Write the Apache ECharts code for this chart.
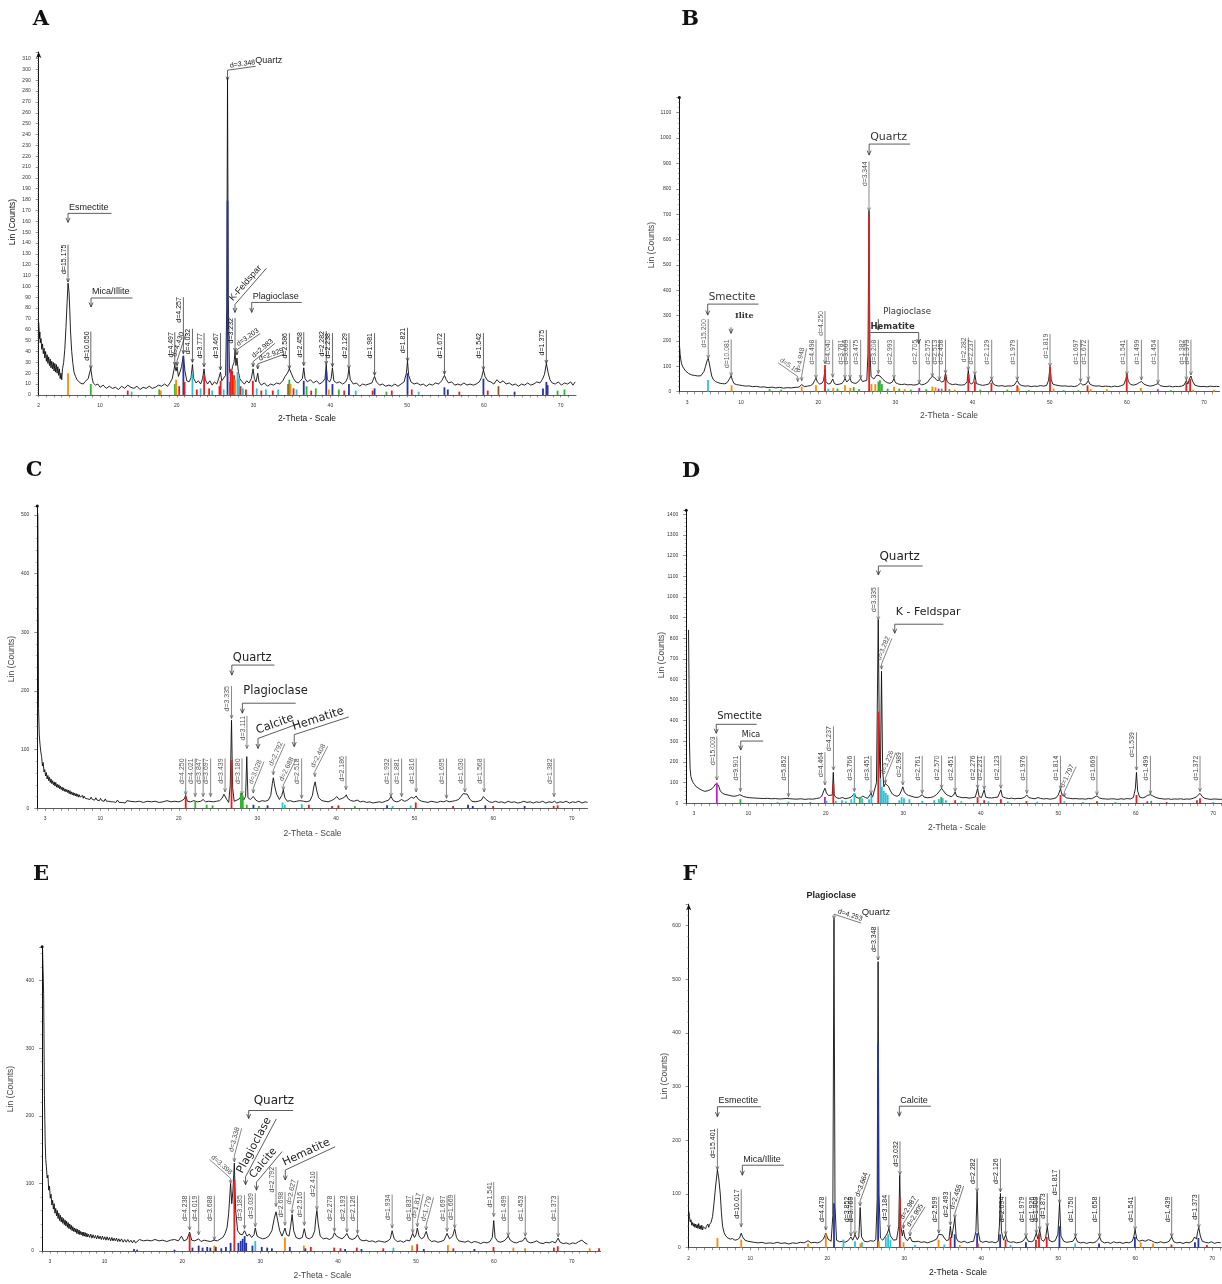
<!DOCTYPE html>
<html><head><meta charset="utf-8">
<script src="https://cdn.jsdelivr.net/npm/echarts@6/dist/echarts.min.js"></script>
<style>html,body{margin:0;padding:0;background:#fff}#c{width:1222px;height:1284px}</style>
</head><body><div id="c"></div>
<script>
// ===================== DATA =====================
// Panel A
const A_curve = [[2.0,67],[2.05,60],[2.1,52],[2.15,58],[2.2,48],[2.3,52],[2.4,42],[2.5,47],[2.6,38],[2.7,43],[2.8,34],[2.9,40],[3.0,31],[3.1,37],[3.2,29],[3.3,35],[3.4,27],[3.5,33],[3.6,25],[3.7,31],[3.8,24],[3.9,30],[4.0,22],[4.1,29],[4.2,21],[4.3,28],[4.4,20],[4.5,26],[4.6,18],[4.7,24],[4.8,15],[4.9,20],[5.0,14],[5.1,24],[5.25,30],[5.4,42],[5.55,62],[5.7,85],[5.82,103],[5.95,95],[6.05,78],[6.15,58],[6.3,40],[6.45,29],[6.6,21],[6.8,17],[7.0,14],[7.2,15],[7.4,11],[7.6,12],[7.8,10],[8.0,12],[8.2,11],[8.45,15],[8.65,21],[8.79,24],[8.95,16],[9.1,11],[9.4,9],[9.7,10],[10.0,7],[10.4,9],[10.8,6],[11.2,8],[11.6,6],[12.0,7],[12.4,5],[12.8,8],[13.2,6],[13.6,9],[14.0,7],[14.4,6],[14.8,8],[15.2,5],[15.6,7],[16.0,6],[16.4,8],[16.8,6],[17.2,7],[17.6,9],[18.0,8],[18.4,10],[18.8,8],[19.1,11],[19.4,15],[19.73,27],[19.9,22],[20.03,26],[20.2,17],[20.45,22],[20.6,26],[20.85,36],[21.05,22],[21.3,13],[21.6,12],[21.85,16],[22.03,28],[22.2,15],[22.5,11],[22.8,13],[23.1,10],[23.35,15],[23.54,24],[23.7,14],[24.0,10],[24.3,13],[24.6,9],[24.9,12],[25.2,10],[25.45,15],[25.68,21],[25.85,13],[26.1,12],[26.35,18],[26.5,80],[26.6,292],[26.7,90],[26.85,22],[27.05,18],[27.25,26],[27.45,30],[27.58,40],[27.7,27],[27.83,34],[28.0,22],[28.2,15],[28.5,12],[28.8,10],[29.1,13],[29.4,11],[29.7,15],[29.93,24],[30.1,15],[30.3,12],[30.54,20],[30.7,12],[31.0,9],[31.4,11],[31.8,8],[32.2,10],[32.6,9],[33.0,11],[33.4,10],[33.8,13],[34.1,17],[34.4,20],[34.66,24],[34.9,20],[35.2,15],[35.5,12],[35.8,11],[36.1,13],[36.35,15],[36.53,25],[36.7,15],[37.0,12],[37.4,14],[37.8,11],[38.2,13],[38.6,10],[39.0,12],[39.3,15],[39.46,28],[39.6,14],[39.9,12],[40.1,15],[40.27,25],[40.45,13],[40.8,11],[41.2,12],[41.6,10],[42.0,12],[42.25,16],[42.42,24],[42.6,14],[43.0,10],[43.4,11],[43.8,8],[44.2,10],[44.6,9],[45.0,10],[45.4,11],[45.76,17],[46.0,12],[46.4,9],[46.8,10],[47.2,8],[47.6,9],[48.0,8],[48.4,10],[48.8,8],[49.2,10],[49.6,12],[49.9,20],[50.05,31],[50.2,18],[50.5,12],[50.9,10],[51.3,11],[51.7,9],[52.1,10],[52.5,8],[52.9,10],[53.3,9],[53.7,11],[54.1,10],[54.5,13],[54.86,18],[55.1,14],[55.4,11],[55.8,12],[56.2,9],[56.6,10],[57.0,9],[57.4,11],[57.8,9],[58.2,10],[58.6,9],[59.0,10],[59.4,12],[59.7,16],[59.94,23],[60.15,17],[60.5,13],[60.9,12],[61.3,10],[61.7,14],[62.1,11],[62.5,13],[62.9,10],[63.3,11],[63.7,9],[64.1,10],[64.5,8],[64.9,10],[65.3,9],[65.7,11],[66.1,9],[66.5,10],[66.9,12],[67.3,11],[67.6,14],[67.9,19],[68.14,29],[68.35,21],[68.6,14],[68.9,11],[69.3,10],[69.7,12],[70.1,9],[70.5,11],[70.9,10],[71.3,12],[71.6,9],[71.9,12]];
const A_sticks = [[5.82,20,'o'],[8.79,10,'g'],[13.6,4,'r'],[14.1,3,'c'],[17.7,5,'g'],[17.9,4,'o'],[19.75,10,'g'],[19.9,14,'o'],[20.3,8,'r'],[20.85,36,'b'],[21.0,12,'r'],[22.03,20,'c'],[22.6,5,'r'],[23.1,6,'c'],[23.55,18,'r'],[24.2,6,'r'],[24.6,4,'c'],[25.55,8,'r'],[25.7,13,'r'],[26.1,5,'c'],[26.6,179,'b'],[26.9,12,'g'],[27.0,24,'r'],[27.2,22,'r'],[27.45,18,'r'],[27.6,14,'o'],[27.9,21,'c'],[28.1,16,'c'],[28.3,8,'r'],[28.6,6,'c'],[29.0,5,'r'],[29.9,13,'r'],[30.4,6,'c'],[31.0,4,'r'],[31.6,5,'c'],[32.5,4,'r'],[33.2,5,'c'],[34.5,10,'r'],[34.65,14,'g'],[34.8,10,'o'],[35.2,6,'r'],[35.6,5,'c'],[36.53,13,'b'],[36.9,8,'g'],[37.5,4,'r'],[38.1,6,'g'],[39.46,22,'b'],[39.8,5,'o'],[40.27,10,'b'],[41.1,5,'g'],[41.8,4,'r'],[42.42,10,'b'],[43.3,4,'c'],[45.5,4,'r'],[45.76,6,'b'],[47.3,3,'g'],[48.0,4,'r'],[50.05,20,'b'],[50.6,5,'r'],[51.5,3,'c'],[54.86,7,'b'],[55.3,5,'b'],[56.8,3,'r'],[59.94,15,'b'],[60.5,4,'r'],[61.9,8,'n'],[64.0,3,'b'],[67.7,6,'b'],[68.14,12,'b'],[68.3,9,'b'],[69.6,4,'g'],[70.5,5,'g']];
const A_peaks = [[5.82,104],[8.79,24],[19.73,27],[20.03,27],[20.85,38],[22.03,30],[23.54,26],[25.68,23],[26.6,290],[27.58,40],[27.83,37],[29.93,26],[30.54,24],[34.66,24],[36.53,27],[39.46,28],[40.27,26],[42.42,24],[45.76,18],[50.05,31],[54.86,19],[59.94,23],[68.14,29]];
const A_peakLabels = ['d=15.175','d=10.050','d=4.497','d=4.430','d=4.257','d=4.032','d=3.777','d=3.467','d=3.348','d=3.232','d=3.203','d=2.983','d=2.925','d=2.586','d=2.458','d=2.282','d=2.238','d=2.129','d=1.981','d=1.821','d=1.672','d=1.542','d=1.375'];
const A_minerals = [[5.82,159],[8.82,81],[27.57,76],[29.75,76],[30.2,304]];
const A_mineralNames = ['Esmectite','Mica/Illite','K-Feldspar','Plagioclase','Quartz'];
const A_xLabels = [2,10,20,30,40,50,60,70];

// Panel B
const B_curve = [[2.05,175],[2.1,150],[2.2,125],[2.3,110],[2.45,98],[2.6,92],[2.8,82],[3.0,78],[3.2,72],[3.4,70],[3.6,66],[3.8,63],[4.0,64],[4.2,59],[4.4,62],[4.6,58],[4.8,63],[5.0,68],[5.2,80],[5.4,100],[5.6,122],[5.75,131],[5.9,110],[6.05,85],[6.2,62],[6.4,48],[6.7,40],[7.0,36],[7.3,33],[7.6,32],[7.9,31],[8.2,36],[8.45,48],[8.72,62],[8.9,44],[9.1,32],[9.4,28],[9.8,26],[10.2,24],[10.6,22],[11.0,23],[11.5,20],[12.0,21],[12.5,18],[13.0,19],[13.5,16],[14.0,18],[14.5,15],[15.0,17],[15.5,14],[16.0,16],[16.5,15],[17.0,17],[17.5,18],[17.86,28],[18.2,20],[18.6,22],[19.0,24],[19.3,30],[19.55,45],[19.71,53],[19.9,38],[20.2,30],[20.5,34],[20.7,45],[20.88,88],[21.0,40],[21.3,30],[21.6,33],[21.88,50],[22.1,32],[22.4,28],[22.8,30],[23.1,33],[23.3,42],[23.47,52],[23.7,38],[23.95,40],[24.12,52],[24.3,38],[24.6,34],[24.9,33],[25.2,40],[25.5,52],[25.75,40],[26.0,38],[26.3,45],[26.45,150],[26.58,712],[26.7,160],[26.85,60],[27.0,55],[27.2,50],[27.4,58],[27.6,66],[27.79,70],[28.0,62],[28.2,55],[28.4,48],[28.7,40],[29.0,35],[29.3,33],[29.6,38],[29.82,52],[30.0,36],[30.4,30],[30.8,28],[31.2,30],[31.6,27],[32.0,28],[32.4,26],[32.8,28],[33.1,33],[33.4,27],[33.8,30],[34.2,38],[34.5,52],[34.8,60],[35.1,55],[35.4,44],[35.7,46],[36.0,38],[36.3,42],[36.5,72],[36.7,40],[37.0,32],[37.4,28],[37.8,30],[38.2,27],[38.6,26],[39.0,28],[39.3,40],[39.45,84],[39.6,36],[39.9,30],[40.15,40],[40.3,66],[40.5,32],[40.9,28],[41.3,25],[41.7,27],[42.1,30],[42.45,48],[42.7,30],[43.0,25],[43.4,22],[43.8,24],[44.2,21],[44.6,23],[45.0,22],[45.4,26],[45.8,44],[46.05,30],[46.4,24],[46.8,22],[47.2,23],[47.6,20],[48.0,22],[48.4,21],[48.8,24],[49.2,22],[49.6,25],[49.85,45],[50.04,98],[50.2,48],[50.4,30],[50.8,26],[51.2,24],[51.6,22],[52.0,23],[52.4,21],[52.8,22],[53.2,20],[53.6,24],[54.0,34],[54.3,26],[54.7,30],[55.0,44],[55.2,30],[55.6,24],[56.0,22],[56.4,23],[56.8,20],[57.2,22],[57.6,21],[58.0,19],[58.4,22],[58.8,20],[59.2,23],[59.6,28],[59.85,48],[60.0,66],[60.2,40],[60.5,28],[60.9,26],[61.3,30],[61.6,36],[61.9,40],[62.2,30],[62.6,25],[63.0,22],[63.4,24],[63.7,28],[64.04,32],[64.3,24],[64.7,21],[65.1,20],[65.5,22],[65.9,19],[66.3,21],[66.7,20],[67.1,22],[67.4,26],[67.7,44],[67.9,30],[68.1,50],[68.3,62],[68.5,42],[68.8,26],[69.2,22],[69.6,20],[70.0,21],[70.4,19],[70.8,22],[71.2,20],[71.6,21],[72,20]];
const B_sticks = [[5.72,46,'c'],[8.77,25,'o'],[13.7,10,'g'],[15.2,8,'g'],[17.86,20,'o'],[19.71,25,'o'],[20.88,105,'r'],[21.3,12,'c'],[21.95,15,'o'],[22.5,12,'g'],[23.47,25,'o'],[24.15,15,'o'],[24.6,18,'g'],[25.3,10,'g'],[26.6,690,'r'],[26.9,30,'o'],[27.4,30,'o'],[27.8,40,'g'],[28.0,45,'g'],[28.25,30,'g'],[29.0,12,'g'],[29.82,20,'o'],[30.5,12,'g'],[31.2,10,'o'],[32.0,8,'g'],[33.1,15,'m'],[34.0,10,'g'],[34.8,20,'o'],[35.2,18,'o'],[35.6,12,'m'],[36.0,12,'g'],[36.5,66,'r'],[37.0,10,'g'],[37.7,8,'o'],[39.45,70,'r'],[40.3,40,'r'],[41.0,8,'g'],[42.45,35,'r'],[44.5,8,'g'],[45.8,25,'r'],[45.95,15,'o'],[47.3,6,'g'],[50.04,99,'r'],[50.5,12,'o'],[51.8,6,'g'],[53.7,6,'g'],[54.9,25,'r'],[55.3,10,'o'],[57.4,10,'o'],[59.98,72,'r'],[61.8,15,'o'],[64.0,10,'m'],[65.7,6,'g'],[67.7,35,'r'],[68.2,50,'r'],[68.6,8,'o'],[71.3,8,'o']];
const B_peaks = [[5.75,131],[8.72,62],[17.35,40],[17.86,43],[19.71,52],[20.88,110],[21.88,57],[23.47,52],[24.12,52],[25.5,52],[26.58,712],[27.79,72],[29.82,52],[33.1,33],[34.79,59],[35.7,46],[36.5,72],[39.45,85],[40.3,66],[42.48,46],[45.8,46],[50.04,99],[54.0,39],[55.0,46],[60.0,66],[61.88,46],[64.04,33],[67.7,46],[68.3,66]];
const B_peakLabels = ['d=15.200','d=10.081','d=5.10','d=4.948','d=4.498','d=4.250','d=4.040','d=3.781','d=3.669','d=3.475','d=3.344','d=3.208','d=2.993','d=2.705','d=2.575','d=2.513','d=2.458','d=2.282','d=2.237','d=2.129','d=1.979','d=1.819','d=1.697','d=1.672','d=1.541','d=1.499','d=1.454','d=1.382','d=1.373'];
const B_minerals = [[26.6,933],[5.68,302],[8.7,230],[27.79,243],[33.02,190]];
const B_mineralNames = ['Quartz','Smectite','Ilite','Plagioclase','Hematite'];
const B_xLabels = [3,10,20,30,40,50,60,70];

// Panel C
const C_curve = [[2.02,505],[2.07,500],[2.1,410],[2.16,170],[2.25,125],[2.35,108],[2.45,96],[2.55,88],[2.65,72],[2.75,78],[2.85,62],[2.95,66],[3.05,55],[3.15,61],[3.25,50],[3.35,56],[3.45,47],[3.55,53],[3.65,44],[3.75,50],[3.85,42],[3.95,47],[4.05,40],[4.15,45],[4.25,38],[4.35,44],[4.45,36],[4.55,41],[4.65,35],[4.75,40],[4.85,33],[4.95,38],[5.05,32],[5.15,36],[5.25,30],[5.35,35],[5.45,29],[5.55,33],[5.65,28],[5.75,32],[5.85,27],[5.95,31],[6.05,25],[6.15,30],[6.25,24],[6.35,28],[6.45,23],[6.55,27],[6.65,22],[6.75,26],[6.85,21],[6.95,25],[7.05,20],[7.15,24],[7.25,19],[7.35,23],[7.45,19],[7.55,22],[7.65,18],[7.75,22],[7.85,17],[7.95,21],[8.1,17],[8.25,20],[8.4,16],[8.55,19],[8.7,15],[8.85,19],[9.0,15],[9.15,18],[9.3,14],[9.45,18],[9.6,14],[9.75,17],[9.9,13],[10.05,17],[10.2,13],[10.35,16],[10.5,12],[10.65,16],[10.8,12],[10.95,15],[11.1,12],[11.25,15],[11.4,11],[11.55,14],[11.7,11],[11.85,14],[12.0,10],[12.2,14],[12.4,10],[12.6,13],[12.8,10],[13.0,13],[13.2,9],[13.4,13],[13.6,10],[13.8,12],[14.0,9],[14.5,11],[15.0,12],[15.5,10],[16.0,12],[16.5,11],[17.0,12],[17.5,10],[18.0,11],[18.5,13],[19.0,11],[19.5,12],[20.0,11],[20.4,13],[20.7,16],[20.88,22],[21.1,12],[21.5,11],[21.9,13],[22.1,16],[22.4,11],[22.8,12],[23.1,15],[23.4,11],[23.8,12],[24.05,14],[24.4,11],[24.8,12],[25.2,13],[25.5,17],[25.75,24],[25.9,27],[26.1,15],[26.35,10],[26.55,40],[26.71,150],[26.85,35],[27.05,12],[27.4,14],[27.7,16],[28.0,22],[28.25,14],[28.5,20],[28.65,88],[28.8,18],[29.1,15],[29.48,20],[29.8,14],[30.2,11],[30.6,13],[31.0,12],[31.4,14],[31.7,22],[31.9,42],[32.03,52],[32.2,38],[32.45,24],[32.8,15],[33.1,22],[33.3,31],[33.5,18],[33.8,12],[34.2,13],[34.6,11],[35.0,12],[35.4,13],[35.65,16],[35.9,12],[36.3,11],[36.7,13],[37.0,22],[37.2,38],[37.35,45],[37.55,30],[37.8,18],[38.2,13],[38.6,12],[39.0,11],[39.4,13],[39.8,16],[40.1,20],[40.4,15],[40.8,17],[41.1,19],[41.3,23],[41.5,17],[41.9,13],[42.3,12],[42.7,14],[43.1,11],[43.5,12],[43.9,10],[44.3,11],[44.7,9],[45.1,10],[45.5,11],[45.9,10],[46.3,12],[46.7,14],[47.0,20],[47.3,13],[47.7,11],[48.0,12],[48.35,15],[48.7,12],[49.0,13],[49.3,16],[49.6,19],[49.9,17],[50.2,21],[50.5,15],[50.9,12],[51.3,11],[51.7,10],[52.1,12],[52.5,11],[52.9,10],[53.3,12],[53.7,11],[54.06,13],[54.4,11],[54.8,12],[55.2,13],[55.6,15],[55.9,20],[56.2,25],[56.45,28],[56.7,24],[57.0,16],[57.3,12],[57.7,11],[58.1,12],[58.5,14],[58.75,20],[58.9,22],[59.1,15],[59.5,11],[59.9,10],[60.3,12],[60.7,10],[61.1,11],[61.5,9],[61.9,12],[62.3,10],[62.7,11],[63.1,9],[63.5,10],[63.9,12],[64.3,10],[64.7,11],[65.1,9],[65.5,11],[65.9,10],[66.3,12],[66.7,9],[67.1,11],[67.5,10],[67.8,12],[68.1,9],[68.5,11],[68.9,10],[69.3,12],[69.7,9],[70.1,11],[70.5,10],[70.9,12],[71.3,9],[71.7,11],[72,10]];
const C_sticks = [[20.88,20,'r'],[22.1,12,'g'],[23.55,6,'g'],[24.3,5,'g'],[26.71,82,'r'],[27.9,26,'g'],[28.0,24,'g'],[28.15,22,'g'],[28.65,6,'g'],[29.5,6,'b'],[30.2,4,'g'],[31.3,5,'b'],[33.2,10,'c'],[33.5,6,'c'],[35.65,7,'c'],[36.55,6,'r'],[39.5,4,'r'],[40.3,5,'r'],[42.4,4,'g'],[46.5,5,'b'],[47.2,4,'c'],[49.5,5,'c'],[50.15,10,'r'],[54.9,4,'r'],[56.8,6,'b'],[57.4,4,'b'],[59.0,5,'b'],[60.0,4,'r'],[64.0,4,'b'],[67.7,4,'r'],[68.2,5,'r']];
const C_peaks = [[20.88,23],[22.09,20],[23.1,20],[24.05,20],[25.89,28],[26.71,153],[28.04,23],[28.67,102],[29.48,26],[32.03,57],[33.3,31],[35.63,17],[37.31,54],[41.27,32],[47.0,20],[48.35,20],[50.2,28],[54.06,17],[56.4,28],[58.85,28],[67.74,20]];
const C_peakLabels = ['d=4.250','d=4.021','d=3.847','d=3.697','d=3.439','d=3.335','d=3.180','d=3.111','d=3.028','d=2.792','d=2.688','d=2.518','d=2.408','d=2.186','d=1.932','d=1.881','d=1.816','d=1.695','d=1.630','d=1.568','d=1.382'];
const C_minerals = [[26.75,227],[28.09,162],[30.08,102],[34.69,105]];
const C_mineralNames = ['Quartz','Plagioclase','Calcite','Hematite'];
const C_xLabels = [3,10,20,30,40,50,60,70];

// Panel D
const D_curve = [[2.3,840],[2.36,600],[2.42,300],[2.5,170],[2.6,130],[2.75,112],[2.9,100],[3.1,90],[3.3,80],[3.5,74],[3.8,68],[4.1,62],[4.4,58],[4.7,60],[5.0,64],[5.3,70],[5.55,80],[5.75,92],[5.95,100],[6.15,88],[6.4,60],[6.7,48],[7.0,43],[7.4,40],[7.8,36],[8.2,34],[8.6,37],[8.9,42],[9.1,40],[9.4,33],[9.8,29],[10.2,27],[10.6,26],[11.0,25],[11.5,24],[12.0,23],[12.5,24],[13.0,22],[13.5,23],[14.0,21],[14.5,22],[15.0,24],[15.2,28],[15.4,22],[15.8,21],[16.3,20],[16.8,22],[17.3,19],[17.8,21],[18.3,20],[18.8,23],[19.2,26],[19.5,35],[19.75,60],[19.9,73],[20.1,50],[20.35,38],[20.6,30],[20.85,40],[20.98,150],[21.1,40],[21.4,26],[21.8,24],[22.2,28],[22.5,22],[22.9,25],[23.3,30],[23.7,48],[23.9,30],[24.2,25],[24.5,27],[24.8,35],[25.1,28],[25.4,24],[25.65,32],[25.85,48],[26.05,30],[26.3,35],[26.55,100],[26.78,888],[26.95,200],[27.05,120],[27.2,640],[27.35,160],[27.5,80],[27.7,95],[27.9,100],[28.1,82],[28.35,60],[28.6,45],[28.9,38],[29.2,34],[29.5,40],[29.75,60],[29.95,80],[30.15,55],[30.4,44],[30.7,38],[31.0,35],[31.4,30],[31.8,28],[32.1,32],[32.45,42],[32.7,30],[33.1,27],[33.5,28],[33.9,32],[34.3,42],[34.6,55],[34.95,72],[35.2,60],[35.5,45],[35.8,38],[36.2,32],[36.5,40],[36.7,55],[36.9,34],[37.3,30],[37.7,27],[38.1,28],[38.5,25],[38.9,27],[39.3,30],[39.6,72],[39.8,32],[40.1,28],[40.45,65],[40.65,30],[41.0,27],[41.4,26],[41.8,28],[42.2,30],[42.6,65],[42.8,32],[43.2,26],[43.6,23],[44.0,25],[44.4,22],[44.8,24],[45.2,23],[45.6,28],[45.95,40],[46.2,28],[46.6,24],[47.0,22],[47.4,28],[47.7,24],[48.1,21],[48.5,23],[48.9,20],[49.3,22],[49.7,26],[50.0,40],[50.3,70],[50.5,40],[50.8,34],[51.1,26],[51.5,24],[51.9,22],[52.3,23],[52.7,21],[53.1,22],[53.5,20],[53.9,23],[54.3,22],[54.7,30],[55.0,36],[55.3,26],[55.7,22],[56.1,21],[56.5,20],[56.9,22],[57.3,21],[57.7,19],[58.1,22],[58.5,20],[58.9,23],[59.3,21],[59.7,28],[59.95,70],[60.1,150],[60.25,60],[60.5,30],[60.9,26],[61.2,30],[61.5,38],[61.9,42],[62.2,36],[62.6,28],[63.0,24],[63.4,22],[63.8,20],[64.2,22],[64.6,19],[65.0,21],[65.4,20],[65.8,22],[66.2,19],[66.6,21],[67.0,20],[67.4,24],[67.8,30],[68.0,38],[68.3,48],[68.6,32],[68.9,24],[69.3,21],[69.7,19],[70.1,21],[70.5,20],[70.9,19],[71.2,21]];
const D_sticks = [[5.95,100,'m'],[9.0,20,'g'],[13.8,6,'c'],[15.2,8,'c'],[18.0,6,'g'],[19.9,30,'m'],[20.1,12,'c'],[20.98,95,'r'],[21.3,12,'c'],[22.1,15,'c'],[22.6,10,'c'],[23.3,20,'c'],[23.7,50,'c'],[24.4,30,'g'],[24.7,25,'c'],[25.6,20,'c'],[25.9,40,'c'],[26.78,444,'r'],[27.05,120,'c'],[27.25,80,'c'],[27.5,60,'c'],[27.75,50,'c'],[28.0,40,'c'],[29.5,15,'c'],[29.8,30,'c'],[30.1,25,'c'],[30.8,20,'c'],[32.45,12,'c'],[34.0,15,'c'],[34.6,20,'c'],[34.9,30,'g'],[35.1,25,'c'],[35.5,15,'c'],[36.7,15,'r'],[37.5,10,'c'],[39.6,30,'r'],[40.45,15,'r'],[41.0,10,'c'],[42.6,20,'r'],[43.5,8,'c'],[45.9,10,'r'],[47.3,8,'c'],[50.3,40,'r'],[50.8,10,'c'],[53.2,6,'c'],[55.0,10,'r'],[57.4,6,'c'],[60.1,40,'r'],[61.5,10,'m'],[62.0,12,'g'],[64.0,6,'r'],[67.9,15,'r'],[68.3,25,'r'],[70.0,6,'c']];
const D_peaks = [[5.95,113],[9.0,57],[15.2,32],[19.9,89],[21.0,161],[23.7,57],[25.85,45],[26.78,888],[27.2,650],[27.7,97],[29.95,89],[32.45,48],[34.95,73],[36.7,57],[39.6,73],[40.45,68],[42.6,73],[45.95,48],[50.3,68],[50.8,32],[55.0,40],[60.1,161],[61.9,45],[68.3,57]];
const D_peakLabels = ['d=15.003','d=9.901','d=5.852','d=4.464','d=4.237','d=3.766','d=3.451','d=3.335','d=3.282','d=3.226','d=2.989','d=2.761','d=2.570','d=2.451','d=2.276','d=2.231','d=2.123','d=1.976','d=1.814','d=1.797','d=1.669','d=1.539','d=1.499','d=1.372'];
const D_minerals = [[26.8,1106],[28.91,824],[5.88,339],[9.04,258]];
const D_mineralNames = ['Quartz','K - Feldspar','Smectite','Mica'];
const D_xLabels = [3,10,20,30,40,50,60,70];

// Panel E
const E_curve = [[2.05,450],[2.12,448],[2.2,380],[2.3,230],[2.4,160],[2.47,135],[2.55,125],[2.65,108],[2.75,112],[2.85,90],[2.95,96],[3.05,78],[3.15,84],[3.25,68],[3.35,75],[3.45,62],[3.55,70],[3.65,56],[3.75,63],[3.85,52],[3.95,60],[4.05,48],[4.15,56],[4.25,45],[4.35,53],[4.45,43],[4.55,50],[4.65,41],[4.75,48],[4.85,39],[4.95,46],[5.05,37],[5.15,44],[5.25,35],[5.35,42],[5.45,33],[5.55,40],[5.65,32],[5.75,38],[5.85,30],[5.95,36],[6.05,29],[6.15,34],[6.25,28],[6.35,33],[6.45,26],[6.55,32],[6.65,25],[6.75,31],[6.85,24],[6.95,29],[7.05,24],[7.15,28],[7.25,22],[7.35,28],[7.45,22],[7.55,27],[7.65,21],[7.75,26],[7.85,21],[7.95,25],[8.1,20],[8.25,25],[8.4,19],[8.55,24],[8.7,19],[8.85,23],[9.0,18],[9.15,23],[9.3,18],[9.45,22],[9.6,17],[9.75,22],[9.9,17],[10.05,21],[10.2,16],[10.35,21],[10.5,16],[10.65,20],[10.8,15],[10.95,20],[11.1,15],[11.25,19],[11.4,15],[11.55,19],[11.7,14],[11.85,18],[12.0,14],[12.2,18],[12.4,13],[12.6,17],[12.8,13],[13.0,17],[13.2,13],[13.4,16],[13.6,12],[13.8,16],[14.0,12],[14.5,17],[15.0,15],[15.5,16],[16.0,15],[16.5,17],[17.0,15],[17.5,16],[18.0,14],[18.5,16],[19.0,17],[19.5,15],[19.9,22],[20.2,15],[20.6,17],[20.94,28],[21.2,16],[21.6,15],[22.1,18],[22.4,14],[22.8,16],[23.2,15],[23.6,14],[24.11,16],[24.5,15],[24.9,18],[25.2,20],[25.5,26],[25.75,35],[25.95,55],[26.2,100],[26.35,70],[26.5,90],[26.68,130],[26.85,60],[27.1,30],[27.4,25],[27.7,24],[27.99,30],[28.3,22],[28.6,25],[28.9,20],[29.2,24],[29.37,34],[29.6,22],[29.9,20],[30.3,18],[30.7,19],[31.1,22],[31.5,30],[31.8,48],[32.03,58],[32.25,45],[32.5,30],[32.8,22],[33.0,28],[33.18,34],[33.4,24],[33.7,22],[33.9,36],[34.1,54],[34.3,30],[34.6,20],[35.0,18],[35.4,20],[35.66,33],[35.9,20],[36.3,18],[36.7,21],[37.0,30],[37.15,50],[37.28,60],[37.45,40],[37.7,22],[38.1,18],[38.5,19],[38.9,17],[39.3,20],[39.53,27],[39.8,22],[40.1,20],[40.5,18],[40.9,22],[41.13,26],[41.4,19],[41.8,17],[42.2,19],[42.49,24],[42.8,17],[43.2,15],[43.6,16],[44.0,14],[44.4,15],[44.8,13],[45.2,15],[45.6,14],[46.0,13],[46.4,15],[46.7,18],[46.94,30],[47.2,18],[47.6,14],[48.0,15],[48.4,13],[48.8,16],[49.2,15],[49.58,26],[49.8,20],[50.0,24],[50.17,34],[50.4,22],[50.7,18],[51.0,20],[51.31,29],[51.6,18],[52.0,14],[52.4,15],[52.8,13],[53.2,14],[53.6,16],[53.99,26],[54.3,18],[54.7,22],[54.97,33],[55.2,20],[55.5,15],[55.9,14],[56.3,13],[56.7,15],[57.1,12],[57.5,14],[57.9,13],[58.3,11],[58.7,13],[59.1,12],[59.5,14],[59.8,20],[59.98,45],[60.15,20],[60.5,14],[60.9,13],[61.3,15],[61.6,18],[61.84,22],[62.1,16],[62.5,13],[62.9,12],[63.3,14],[63.7,15],[64.03,20],[64.3,14],[64.7,12],[65.1,13],[65.5,15],[65.9,12],[66.3,11],[66.7,13],[67.1,12],[67.5,14],[67.9,12],[68.25,19],[68.5,13],[68.9,11],[69.3,12],[69.7,10],[70.1,12],[70.5,11],[70.9,14],[71.3,16],[71.7,12],[72.0,10]];
const E_sticks = [[13.8,3,'b'],[14.2,2,'b'],[19.0,2,'b'],[20.94,25,'r'],[21.3,5,'b'],[22.1,8,'b'],[22.6,5,'b'],[23.2,6,'b'],[23.6,5,'b'],[24.1,8,'o'],[24.3,6,'b'],[25.0,4,'b'],[25.6,6,'b'],[26.2,12,'b'],[26.68,105,'r'],[27.2,12,'b'],[27.5,15,'b'],[27.75,18,'b'],[28.0,22,'b'],[28.2,12,'b'],[29.0,8,'b'],[29.37,15,'c'],[30.2,6,'b'],[30.9,5,'b'],[31.5,4,'b'],[33.18,20,'o'],[33.8,6,'b'],[35.6,8,'o'],[35.8,4,'b'],[36.5,6,'r'],[39.5,5,'r'],[40.3,4,'r'],[40.9,3,'b'],[42.4,5,'r'],[43.0,3,'b'],[45.8,4,'r'],[47.1,5,'c'],[49.5,8,'o'],[50.15,10,'r'],[51.0,3,'b'],[54.1,9,'o'],[54.8,4,'r'],[57.5,3,'b'],[59.95,6,'r'],[62.5,5,'o'],[64.0,4,'o'],[67.7,5,'r'],[68.2,7,'r'],[72.3,4,'o'],[73.5,4,'r']];
const E_peaks = [[20.94,31],[22.1,24],[24.11,16],[26.2,100],[26.68,132],[27.99,33],[29.37,36],[32.03,66],[33.18,38],[34.1,56],[35.66,38],[37.28,61],[39.53,29],[41.13,28],[42.49,26],[46.94,34],[49.58,27],[50.17,36],[51.31,31],[53.99,29],[54.97,34],[59.98,51],[61.84,22],[64.03,22],[68.25,21]];
const E_peakLabels = ['d=4.238','d=4.019','d=3.688','d=3.398','d=3.338','d=3.185','d=3.039','d=2.792','d=2.698','d=2.627','d=2.516','d=2.410','d=2.278','d=2.193','d=2.126','d=1.934','d=1.837','d=1.817','d=1.779','d=1.697','d=1.669','d=1.541','d=1.499','d=1.453','d=1.373'];
const E_minerals = [[28.52,196],[28.12,98],[29.52,90],[33.22,105]];
const E_mineralNames = ['Quartz','Plagioclase','Calcite','Hematite'];
const E_xLabels = [3,10,20,30,40,50,60,70];

// Panel F
const F_curve = [[2.03,67],[2.1,58],[2.2,48],[2.3,52],[2.4,42],[2.5,47],[2.6,40],[2.7,45],[2.8,38],[2.9,44],[3.0,37],[3.1,43],[3.2,36],[3.3,45],[3.4,35],[3.5,41],[3.6,34],[3.7,42],[3.8,33],[3.9,39],[4.0,36],[4.1,42],[4.2,35],[4.3,40],[4.4,37],[4.5,44],[4.6,38],[4.7,43],[4.8,40],[4.9,47],[5.0,50],[5.1,58],[5.3,85],[5.5,115],[5.73,145],[5.9,130],[6.1,100],[6.25,65],[6.4,40],[6.6,28],[6.8,22],[7.1,18],[7.4,16],[7.7,17],[8.0,14],[8.3,15],[8.6,18],[8.82,27],[9.0,20],[9.3,14],[9.7,12],[10.1,11],[10.5,10],[11.0,9],[11.5,10],[12.0,8],[12.5,9],[13.0,8],[13.5,10],[14.0,8],[14.5,9],[15.0,7],[15.5,9],[16.0,8],[16.5,10],[17.0,9],[17.5,13],[17.9,9],[18.3,10],[18.7,9],[19.1,11],[19.5,16],[19.81,27],[20.1,16],[20.5,12],[20.72,60],[20.87,612],[21.0,80],[21.2,14],[21.6,11],[22.0,12],[22.3,10],[22.7,13],[23.07,20],[23.3,14],[23.59,24],[23.9,15],[24.1,20],[24.27,75],[24.45,20],[24.8,12],[25.2,11],[25.6,13],[26.0,12],[26.3,15],[26.48,90],[26.6,533],[26.72,100],[26.9,18],[27.2,14],[27.5,20],[27.8,27],[28.0,36],[28.2,22],[28.6,14],[29.0,15],[29.28,40],[29.41,135],[29.55,40],[29.75,22],[29.89,33],[30.1,18],[30.4,13],[30.75,20],[31.0,12],[31.4,11],[31.8,12],[32.2,10],[32.6,11],[33.0,9],[33.4,11],[33.8,13],[34.2,16],[34.48,25],[34.7,22],[34.95,24],[35.2,18],[35.5,13],[35.8,15],[35.99,40],[36.15,18],[36.35,20],[36.57,55],[36.75,18],[37.0,12],[37.4,10],[37.8,12],[38.2,9],[38.6,11],[39.0,12],[39.3,30],[39.46,104],[39.6,30],[39.85,12],[40.2,10],[40.6,12],[41.0,10],[41.4,11],[41.8,9],[42.2,12],[42.35,40],[42.49,101],[42.62,30],[42.9,14],[43.17,24],[43.4,12],[43.8,10],[44.2,11],[44.6,9],[45.0,10],[45.4,12],[45.81,20],[46.1,12],[46.5,11],[46.8,13],[47.15,27],[47.35,16],[47.59,33],[47.8,15],[48.1,12],[48.35,18],[48.57,39],[48.8,14],[49.2,11],[49.6,13],[49.95,25],[50.17,83],[50.35,22],[50.7,12],[51.1,10],[51.5,11],[51.9,12],[52.23,20],[52.5,11],[52.9,9],[53.3,10],[53.7,8],[54.1,10],[54.5,9],[54.9,11],[55.2,16],[55.37,20],[55.6,12],[56.0,9],[56.4,10],[56.8,8],[57.2,11],[57.6,9],[58.0,10],[58.4,8],[58.8,10],[59.2,9],[59.6,12],[59.8,20],[59.98,33],[60.2,16],[60.5,12],[60.9,14],[61.3,12],[61.7,15],[62.1,13],[62.5,10],[62.9,9],[63.3,11],[63.7,9],[64.1,10],[64.4,12],[64.73,20],[65.0,11],[65.4,9],[65.8,10],[66.2,8],[66.6,10],[67.0,9],[67.4,12],[67.7,20],[67.95,16],[68.1,30],[68.25,37],[68.45,22],[68.7,12],[69.1,10],[69.5,9],[69.9,11],[70.3,8],[70.7,10],[71.1,9]];
const F_sticks = [[5.73,18,'o'],[8.82,15,'o'],[17.5,8,'o'],[19.81,25,'o'],[20.87,83,'b'],[22.1,15,'c'],[23.6,12,'c'],[24.3,8,'o'],[24.5,10,'c'],[26.6,381,'b'],[26.7,12,'o'],[27.6,20,'c'],[27.9,25,'c'],[28.2,15,'c'],[29.42,93,'r'],[29.9,10,'o'],[31.4,5,'c'],[34.45,15,'o'],[35.2,6,'c'],[36.0,20,'r'],[36.55,25,'b'],[37.2,5,'o'],[39.46,27,'b'],[39.55,8,'r'],[42.45,25,'b'],[43.15,15,'r'],[43.8,5,'c'],[45.8,10,'b'],[47.1,15,'r'],[47.5,25,'r'],[48.5,20,'r'],[50.15,40,'b'],[52.2,8,'c'],[55.3,8,'b'],[59.95,20,'b'],[60.7,10,'o'],[62.3,8,'o'],[64.7,6,'r'],[67.75,10,'b'],[68.2,18,'b'],[69.3,5,'r']];
const F_peaks = [[5.73,145],[8.82,39],[19.81,33],[20.87,612],[23.07,22],[23.59,24],[24.27,78],[26.6,536],[28.0,36],[29.44,136],[29.89,36],[30.75,22],[34.48,27],[35.99,42],[36.57,55],[39.46,104],[42.49,104],[43.17,24],[45.81,20],[47.15,27],[47.59,33],[48.57,39],[50.17,83],[52.23,20],[55.37,20],[59.98,33],[64.73,20],[68.25,37]];
const F_peakLabels = ['d=15.401','d=10.017','d=4.478','d=4.253','d=3.852','d=3.769','d=3.664','d=3.348','d=3.184','d=3.032','d=2.987','d=2.905','d=2.599','d=2.493','d=2.455','d=2.282','d=2.126','d=2.094','d=1.979','d=1.926','d=1.909','d=1.873','d=1.817','d=1.750','d=1.658','d=1.541','d=1.439','d=1.373'];
const F_minerals = [[5.73,244],[8.97,135],[29.36,245],[24.47,616],[20.5,648]];
const F_mineralNames = ['Esmectite','Mica/Illite','Calcite','Quartz','Plagioclase'];
const F_xLabels = [2,10,20,30,40,50,60,70];

// ===================== STYLE / LAYOUT =====================
const PHASE_COLORS = {o:'#ff8a00', g:'#2fb52f', b:'#2433a8', r:'#ec1c1c', c:'#2cc3d4', m:'#c21fc2', n:'#a0521d'};
const SANS = '"Liberation Sans", Arial, sans-serif';
const DJV = '"DejaVu Sans", sans-serif';

const panels = [
  {id:'A', grid:{left:38.7, top:52, width:537.3, height:342.9}, xMax:72, yMax:316, yInt:10, minorSplit:5,
   curve:A_curve, sticks:A_sticks, peaks:A_peaks, peakLabels:A_peakLabels, xLabels:A_xLabels,
   dFont:'7px '+SANS, dColor:'#111', lineColor:'#222', topValue:57,
   dStyle:{'d=4.430':{angle:72},'d=4.257':{stem:28},'d=3.348':{angle:8,stem:10},'d=3.203':{angle:35},'d=2.983':{angle:40},'d=2.925':{angle:20}},
   minerals:A_minerals, mineralNames:A_mineralNames, mFamily:SANS, mFontSize:9, mColor:'#222', mStem:9,
   mStyle:{'K-Feldspar':{angle:49, stem:8}, 'Quartz':{plain:true}, 'Plagioclase':{stem:10}},
   arrowTop:'arrow'},
  {id:'B', grid:{left:679.3, top:97.5, width:540.2, height:294.2}, xMax:72, yMax:1160, yInt:100, minorSplit:5,
   curve:B_curve, sticks:B_sticks, peaks:B_peaks, peakLabels:B_peakLabels, xLabels:B_xLabels,
   dFont:'6.8px '+SANS, dColor:'#5a5a5a', lineColor:'#555', topValue:205,
   dStyle:{'d=5.10':{angle:145},'d=4.948':{angle:80},'d=4.250':{stem:25},'d=3.344':{stem:22},'d=15.200':{stem:8}},
   minerals:B_minerals, mineralNames:B_mineralNames, mFamily:DJV, mFontSize:11, mColor:'#333', mStem:11,
   mStyle:{'Quartz':{fontSize:11}, 'Smectite':{fontSize:10.5}, 'Ilite':{noLine:true,bold:true,family:'"DejaVu Serif", serif',fontSize:8,stem:6,gap:7,indent:4},
           'Plagioclase':{noLine:true,fontSize:8.5,stem:11,gap:3,indent:5}, 'Hematite':{right:true,fontSize:8.5,bold:true,stem:11}},
   arrowTop:'circle'},
  {id:'C', grid:{left:37.3, top:506, width:550.2, height:302.3}, xMax:72, yMax:515, yInt:100, minorSplit:5,
   curve:C_curve, sticks:C_sticks, peaks:C_peaks, peakLabels:C_peakLabels, xLabels:C_xLabels,
   dFont:'7px '+SANS, dColor:'#5a5a5a', lineColor:'#555', topValue:85,
   dStyle:{'d=3.028':{angle:68},'d=2.792':{angle:66},'d=2.688':{angle:64},'d=2.408':{angle:63},'d=3.335':{stem:4}},
   minerals:C_minerals, mineralNames:C_mineralNames, mFamily:DJV, mFontSize:11.5, mColor:'#222', mStem:10,
   mStyle:{'Plagioclase':{gap:6,len:-15}, 'Calcite':{angle:20}, 'Hematite':{angle:18, stem:12}},
   arrowTop:'circle'},
  {id:'D', grid:{left:686.2, top:510.2, width:536.3, height:293.1}, xMax:71.2, yMax:1420, yInt:100, minorSplit:5,
   curve:D_curve, sticks:D_sticks, peaks:D_peaks, peakLabels:D_peakLabels, xLabels:D_xLabels,
   dFont:'6.8px '+SANS, dColor:'#4a4a4a', lineColor:'#555', topValue:230,
   dStyle:{'d=3.282':{angle:68},'d=3.226':{angle:68},'d=1.797':{angle:65},'d=4.237':{stem:16},'d=1.539':{stem:10},'d=15.003':{stem:12}},
   minerals:D_minerals, mineralNames:D_mineralNames, mFamily:DJV, mFontSize:11, mColor:'#222', mStem:9,
   mStyle:{'Quartz':{fontSize:12,gap:3}, 'K - Feldspar':{fontSize:11,gap:7,len:-20}, 'Smectite':{fontSize:10,len:-8,gap:2.5}, 'Mica':{fontSize:8,gap:2}},
   arrowTop:'circle'},
  {id:'E', grid:{left:42.1, top:946.8, width:558.5, height:304.2}, xMax:73.7, yMax:450, yInt:100, minorSplit:5,
   curve:E_curve, sticks:E_sticks, peaks:E_peaks, peakLabels:E_peakLabels, xLabels:E_xLabels,
   dFont:'7px '+SANS, dColor:'#4a4a4a', lineColor:'#555', topValue:82,
   dStyle:{'d=3.398':{angle:138},'d=3.338':{angle:75,stem:6},'d=2.627':{angle:78},'d=1.817':{angle:78},'d=1.779':{angle:75},'d=2.792':{stem:11},'d=2.410':{stem:10},'d=1.541':{stem:6}},
   minerals:E_minerals, mineralNames:E_mineralNames, mFamily:DJV, mFontSize:11, mColor:'#222', mStem:8,
   mStyle:{'Quartz':{fontSize:12,indent:5,gap:4}, 'Plagioclase':{angle:62}, 'Calcite':{angle:50,fontSize:10.5}, 'Hematite':{angle:25,stem:10}},
   arrowTop:'circle'},
  {id:'F', grid:{left:688.7, top:904.2, width:532.8, height:343.5}, xMax:71.2, yMax:640, yInt:100, minorSplit:5,
   curve:F_curve, sticks:F_sticks, peaks:F_peaks, peakLabels:F_peakLabels, xLabels:F_xLabels,
   dFont:'7px '+SANS, dColor:'#1a1a1a', lineColor:'#444', topValue:95,
   dStyle:{'d=4.253':{angle:-18},'d=3.664':{angle:70},'d=2.987':{angle:58},'d=2.905':{angle:58},'d=2.455':{angle:72},'d=15.401':{stem:9}},
   minerals:F_minerals, mineralNames:F_mineralNames, mFamily:SANS, mFontSize:9, mColor:'#222', mStem:10,
   mStyle:{'Quartz':{plain:true,fontSize:9.5}, 'Plagioclase':{plain:true,bold:true,align:'center',fontSize:9}},
   arrowTop:'arrow'}
];

// text measuring
const mctx = document.createElement('canvas').getContext('2d');
function textW(t, font){ mctx.font = font; return mctx.measureText(t).width; }

const grids = [], xAxes = [], yAxes = [], series = [];
panels.forEach((p, i) => {
  grids.push(Object.assign({outerBoundsMode:'none', containLabel:false}, p.grid));
  xAxes.push({
    type:'value', gridIndex:i, min:2, max:p.xMax, interval:1,
    axisLine:{onZero:false, lineStyle:{color:'#333', width:0.8}},
    axisTick:{show:true, length:2.5, lineStyle:{color:'#444', width:0.6}},
    axisLabel:{fontSize:5, color:'#333', margin:8, fontFamily:SANS, showMaxLabel:false,
      formatter:(v)=>{ const r=Math.round(v); return (Math.abs(v-r)<1e-6 && p.xLabels.indexOf(r)>=0) ? String(r) : ''; }},
    splitLine:{show:false}
  });
  yAxes.push({
    type:'value', gridIndex:i, min:0, max:p.yMax, interval:p.yInt,
    axisLine:{show:true, lineStyle:{color:'#111', width:1}, symbol:['none', p.arrowTop], symbolSize: p.arrowTop==='arrow' ? [4,6] : [3,3]},
    axisTick:{show:true, length:3, lineStyle:{color:'#444', width:0.6}},
    minorTick:{show:true, splitNumber:p.minorSplit, length:1.5, lineStyle:{color:'#666', width:0.5}},
    axisLabel:{fontSize:5, color:'#333', margin:8, fontFamily:SANS, showMaxLabel:false,
      formatter:(v)=>String(Math.round(v))},
    splitLine:{show:false}
  });
  // diffractogram
  series.push({type:'line', xAxisIndex:i, yAxisIndex:i, data:p.curve, symbol:'none', showSymbol:false,
    lineStyle:{color:'#0d0d0d', width:0.9}, z:2, silent:true, animation:false});
  // reference sticks
  series.push({type:'custom', xAxisIndex:i, yAxisIndex:i, z:3, silent:true, animation:false,
    data:p.sticks.map(s=>[s[0], s[1]]),
    renderItem:(params, api)=>{
      const a = api.coord([api.value(0), 0]);
      const b = api.coord([api.value(0), api.value(1)]);
      return {type:'rect', shape:{x:a[0]-0.9, y:b[1], width:1.8, height:a[1]-b[1]},
        style:{fill:PHASE_COLORS[p.sticks[params.dataIndex][2]]}};
    }});
  // d-spacing annotations
  series.push({type:'custom', xAxisIndex:i, yAxisIndex:i, z:4, silent:true, animation:false, clip:false,
    data:p.peaks,
    renderItem:(params, api)=>{
      const lab = p.peakLabels[params.dataIndex];
      const st = p.dStyle[lab] || {};
      const x = api.value(0), y = api.value(1);
      const tip = api.coord([x, y]);
      const w = textW(lab, p.dFont);
      const a = (st.angle !== undefined) ? st.angle : 90;
      const rad = a*Math.PI/180;
      let pts, ex, ey;
      if (a === 90) {
        let total;
        if (st.stem !== undefined) total = st.stem + w + 3;
        else { const topPx = api.coord([x, p.topValue])[1]; total = Math.max(5 + w + 3, tip[1] - topPx); }
        ex = tip[0]; ey = tip[1] - total;
        pts = [[tip[0], tip[1]], [ex, ey]];
      } else {
        const stem = (st.stem !== undefined) ? st.stem : 5;
        const L = w + 3;
        const sx = tip[0], sy = tip[1] - stem;
        ex = sx + Math.cos(rad)*L; ey = sy - Math.sin(rad)*L;
        pts = [[tip[0], tip[1]], [sx, sy], [ex, ey]];
      }
      const rot = a > 90 ? rad - Math.PI : rad;
      const align = a > 90 ? 'left' : 'right';
      return {type:'group', children:[
        {type:'polyline', shape:{points:pts}, style:{stroke:p.lineColor, lineWidth:0.7, fill:'none'}},
        {type:'polyline', shape:{points:[[tip[0]-1.5, tip[1]-3.5],[tip[0], tip[1]],[tip[0]+1.5, tip[1]-3.5]]}, style:{stroke:p.lineColor, lineWidth:0.7, fill:'none'}},
        {type:'text', x:ex, y:ey, rotation:rot, style:{text:lab, font:p.dFont, fill:p.dColor, align:align, verticalAlign:'bottom', x:0, y:-0.6}}
      ]};
    }});
  // mineral labels
  series.push({type:'custom', xAxisIndex:i, yAxisIndex:i, z:5, silent:true, animation:false, clip:false,
    data:p.minerals,
    renderItem:(params, api)=>{
      const name = p.mineralNames[params.dataIndex];
      const st = p.mStyle[name] || {};
      const tip = api.coord([api.value(0), api.value(1)]);
      const fs = st.fontSize || p.mFontSize;
      const font = (st.bold ? 'bold ' : '') + fs + 'px ' + (st.family || p.mFamily);
      const w = textW(name, font);
      const color = p.mColor;
      if (st.plain) {
        return {type:'text', x:tip[0], y:tip[1], style:{text:name, font:font, fill:color, align:st.align||'left', verticalAlign:'bottom'}};
      }
      const stem = st.stem || p.mStem;
      const gap = (st.gap !== undefined) ? st.gap : 1.5;
      const sx = tip[0], sy = tip[1] - stem;
      const children = [
        {type:'polyline', shape:{points:[[tip[0]-2, tip[1]-4.5],[tip[0], tip[1]],[tip[0]+2, tip[1]-4.5]]}, style:{stroke:'#333', lineWidth:0.8, fill:'none'}}
      ];
      if (st.noLine) {
        children.push({type:'polyline', shape:{points:[[tip[0], tip[1]],[sx, sy]]}, style:{stroke:'#333', lineWidth:0.8, fill:'none'}});
        children.push({type:'text', x:sx, y:sy, style:{text:name, font:font, fill:color, align:'left', verticalAlign:'bottom', x:(st.indent||3), y:-gap}});
      } else {
        const a = (st.angle || 0)*Math.PI/180;
        const L = w + 4 + (st.len || 0);
        const dir = st.right ? -1 : 1;
        const ex = sx + dir*Math.cos(a)*L, ey = sy - Math.sin(a)*L;
        children.push({type:'polyline', shape:{points:[[tip[0], tip[1]],[sx, sy],[ex, ey]]}, style:{stroke:'#333', lineWidth:0.8, fill:'none'}});
        children.push({type:'text', x: st.right ? ex : sx, y: st.right ? ey : sy, rotation:a,
          style:{text:name, font:font, fill:color, align:'left', verticalAlign:'bottom', x: st.right ? 0 : (st.indent||1), y:-gap}});
      }
      return {type:'group', children:children};
    }});
});

// titles / panel letters
const titleFont = '8.5px ' + SANS;
const letters = [['A',41,20],['B',690,20],['C',34,471],['D',691,472],['E',41,875],['F',690,875]];
const yTitles = [[13,222],[652,245],[11.7,659],[661.7,655],[11,1089],[664.8,1076]];
const xTitles = [[307,419],[949,416],[312.5,834],[957,828],[322.5,1276],[958,1273]];
const graphic = [];
letters.forEach(l => graphic.push({type:'text', x:l[1], y:l[2], style:{text:l[0], font:'bold 21px "DejaVu Serif", serif', fill:'#111', align:'center', verticalAlign:'middle'}}));
yTitles.forEach((t, k) => graphic.push({type:'text', x:t[0], y:t[1], rotation:Math.PI/2, style:{text:'Lin (Counts)', font:titleFont, fill: k===0 ? '#111' : '#444', align:'center', verticalAlign:'middle'}}));
xTitles.forEach((t, k) => graphic.push({type:'text', x:t[0], y:t[1], style:{text:'2-Theta - Scale', font:titleFont, fill: (k===0||k===5) ? '#111' : '#444', align:'center', verticalAlign:'middle'}}));

const chart = echarts.init(document.getElementById('c'), null, {renderer:'canvas', width:1222, height:1284});
chart.setOption({
  animation:false,
  backgroundColor:'#ffffff',
  textStyle:{fontFamily:SANS},
  grid:grids, xAxis:xAxes, yAxis:yAxes, series:series, graphic:graphic
});
</script>
</body></html>
